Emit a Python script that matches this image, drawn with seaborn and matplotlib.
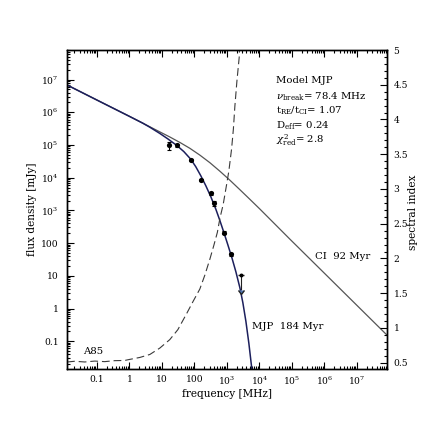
import matplotlib
matplotlib.use("Agg")
import matplotlib.pyplot as plt
import seaborn as sns
from matplotlib.ticker import FixedLocator, FixedFormatter, LogLocator, MultipleLocator, NullFormatter

# ---------------- data ----------------
# CI model, flux density [mJy] vs frequency [MHz]
ci_freq = [0.0122, 0.124, 1.0, 4.28, 8.67, 17.6, 35.8, 72.7, 147.6, 299.9, 609.5,
           1236, 2512, 5105, 10350, 29990, 86700, 1.476e6, 8.2e7]
ci_flux = [6.84e6, 2.14e6, 7.55e5, 3.61e5, 2.52e5, 1.76e5, 1.20e5, 7.93e4, 4.91e4,
           2.88e4, 1.58e4, 8400, 4300, 2180, 1100, 381, 132, 8.15, 0.157]

# MJP model
mjp_freq = [0.0122, 0.124, 1.0, 2.60, 4.28, 8.67, 15.3, 29.0, 47.5, 78.0, 111.2,
            158.5, 225.9, 322.1, 459.2, 609.5, 809.1, 1074, 1426, 1892, 2512,
            3105, 3846, 4753, 5875, 6776]
mjp_flux = [6.84e6, 2.14e6, 7.55e5, 4.65e5, 3.50e5, 2.26e5, 1.54e5, 9.66e4, 6.29e4,
            3.66e4, 2.15e4, 1.14e4, 5650, 2600, 1080, 491, 211, 88.1, 35.8, 13.3,
            4.33, 1.50, 0.406, 0.0851, 0.0138, 0.00338]

# spectral index of the MJP model (right axis)
alpha_freq = [0.0122, 0.0210, 0.0428, 0.0868, 0.176, 0.358, 0.727, 1.0, 2.10, 4.28,
              8.68, 17.6, 31.1, 57.5, 89.9, 147.6, 210.4, 299.9, 398.1, 510.3,
              609.5, 769.6, 979.5, 1153, 1396, 1585, 1762, 2032, 2389, 2443]
alpha_index = [0.511, 0.521, 0.511, 0.524, 0.516, 0.530, 0.533, 0.547, 0.576, 0.619,
               0.711, 0.833, 0.976, 1.204, 1.376, 1.561, 1.761, 1.990, 2.190, 2.376,
               2.576, 2.776, 3.061, 3.261, 3.576, 3.861, 4.190, 4.547, 4.890, 4.990]

# observed flux densities of A85
obs_freq = [16.4, 28.8, 77.6, 158, 324, 398, 813, 1380]
obs_flux = [96600, 96600, 34700, 8510, 3310, 1660, 209, 45.7]
obs_err = [25000, 8000, 3000, 700, 300, 330, 20, 4]

# upper limit
ul_freq = [2630]
ul_flux = [10.5]

# tick labels
xtick_vals = [0.1, 1, 10, 100, 1e3, 1e4, 1e5, 1e6, 1e7]
xtick_labels = ["0.1", "1", "10", "100", r"$10^3$", r"$10^4$", r"$10^5$", r"$10^6$", r"$10^7$"]
ytick_vals = [0.1, 1, 10, 100, 1e3, 1e4, 1e5, 1e6, 1e7]
ytick_labels = ["0.1", "1", "10", "100", r"$10^3$", r"$10^4$", r"$10^5$", r"$10^6$", r"$10^7$"]
alpha_ticks = [0.5, 1, 1.5, 2, 2.5, 3, 3.5, 4, 4.5, 5]
alpha_tick_labels = ["0.5", "1", "1.5", "2", "2.5", "3", "3.5", "4", "4.5", "5"]

# ---------------- style ----------------
sns.set_theme(style="ticks")
plt.rcParams["font.family"] = ["DejaVu Serif"]
plt.rcParams["mathtext.fontset"] = "dejavuserif"
plt.rcParams["axes.linewidth"] = 1.0
plt.rcParams["axes.edgecolor"] = "black"

fig = plt.figure(figsize=(4.36, 4.36), dpi=100)
fig.patch.set_facecolor("white")
ax = fig.add_axes([67 / 436, 67 / 436, 319.7 / 436, 319 / 436])
ax.set_xscale("log")
ax.set_yscale("log")

# model curves
sns.lineplot(x=ci_freq, y=ci_flux, ax=ax, color="#555555", lw=0.9,
             sort=False, estimator=None)
sns.lineplot(x=mjp_freq, y=mjp_flux, ax=ax, color="#1c1f5c", lw=1.1,
             sort=False, estimator=None)

# data points
ax.errorbar(obs_freq, obs_flux, yerr=obs_err, fmt="none", ecolor="black",
            elinewidth=0.8, capsize=1.2, capthick=0.8, zorder=4)
sns.scatterplot(x=obs_freq, y=obs_flux, ax=ax, color="black", s=14,
                linewidth=0, zorder=5)
sns.scatterplot(x=ul_freq, y=ul_flux, ax=ax, color="black", s=8,
                linewidth=0, zorder=5)
ax.errorbar(ul_freq, ul_flux, yerr=[[ul_flux[0] * 0.65], [0]], uplims=True,
            fmt="none", ecolor="#222222", elinewidth=0.8, capsize=2.0, zorder=4)

ax.set_xlim(10 ** -1.915, 10 ** 7.914)
ax.set_ylim(10 ** -1.85, 10 ** 7.905)

ax.xaxis.set_major_locator(FixedLocator(xtick_vals))
ax.xaxis.set_major_formatter(FixedFormatter(xtick_labels))
ax.xaxis.set_minor_locator(LogLocator(base=10, subs=range(2, 10), numticks=30))
ax.xaxis.set_minor_formatter(NullFormatter())
ax.yaxis.set_major_locator(FixedLocator(ytick_vals))
ax.yaxis.set_major_formatter(FixedFormatter(ytick_labels))
ax.yaxis.set_minor_locator(LogLocator(base=10, subs=range(2, 10), numticks=30))
ax.yaxis.set_minor_formatter(NullFormatter())

ax.tick_params(which="both", direction="in", top=True, right=False,
               color="black", width=0.8, labelsize=6.6, labelcolor="black")
ax.tick_params(which="major", length=5)
ax.tick_params(which="minor", length=2.5)
ax.tick_params(axis="y", pad=6)
ax.tick_params(axis="x", pad=4)

ax.set_xlabel("frequency [MHz]", fontsize=7.6, color="black")
ax.set_ylabel("flux density [mJy]", fontsize=7.6, color="black")
ax.xaxis.set_label_coords(0.5, -0.062)
ax.yaxis.set_label_coords(-0.093, 0.5)

# spectral index axis
ax2 = ax.twinx()
sns.lineplot(x=alpha_freq, y=alpha_index, ax=ax2, color="#3a3a3a", lw=0.8,
             linestyle=(0, (7, 3.5)), sort=False, estimator=None)
ax2.set_ylim(0.41, 5.0)
ax2.yaxis.set_major_locator(FixedLocator(alpha_ticks))
ax2.yaxis.set_major_formatter(FixedFormatter(alpha_tick_labels))
ax2.yaxis.set_minor_locator(MultipleLocator(0.1))
ax2.tick_params(which="both", direction="in", color="black", width=0.8,
                labelsize=6.6, labelcolor="black", pad=5)
ax2.tick_params(which="major", length=5)
ax2.tick_params(which="minor", length=2.5)
ax2.set_ylabel("spectral index", fontsize=7.6, color="black", rotation=90)
ax2.yaxis.set_label_coords(1.066, 0.49)
for sp in ax2.spines.values():
    sp.set_color("black")
    sp.set_linewidth(1.0)

# annotations
ann = dict(transform=ax.transAxes, fontsize=7.3, color="black", va="baseline", ha="left")
ax.text(0.654, 0.895, "Model MJP", **ann)
ax.text(0.654, 0.846, r"$\nu_{\mathrm{break}}$= 78.4 MHz", **ann)
ax.text(0.654, 0.800, r"t$_{\mathrm{RE}}$/t$_{\mathrm{CI}}$= 1.07", **ann)
ax.text(0.654, 0.753, r"D$_{\mathrm{eff}}$= 0.24", **ann)
ax.text(0.654, 0.706, r"$\chi^2_{\mathrm{red}}$= 2.8", **ann)

lab = dict(transform=ax.transAxes, fontsize=7.3, color="black", va="center", ha="left")
ax.text(0.776, 0.354, "CI  92 Myr", **lab)
ax.text(0.580, 0.132, "MJP  184 Myr", **lab)
ax.text(0.051, 0.054, "A85", **lab)

fig.savefig("out.png", dpi=100, facecolor="white")
